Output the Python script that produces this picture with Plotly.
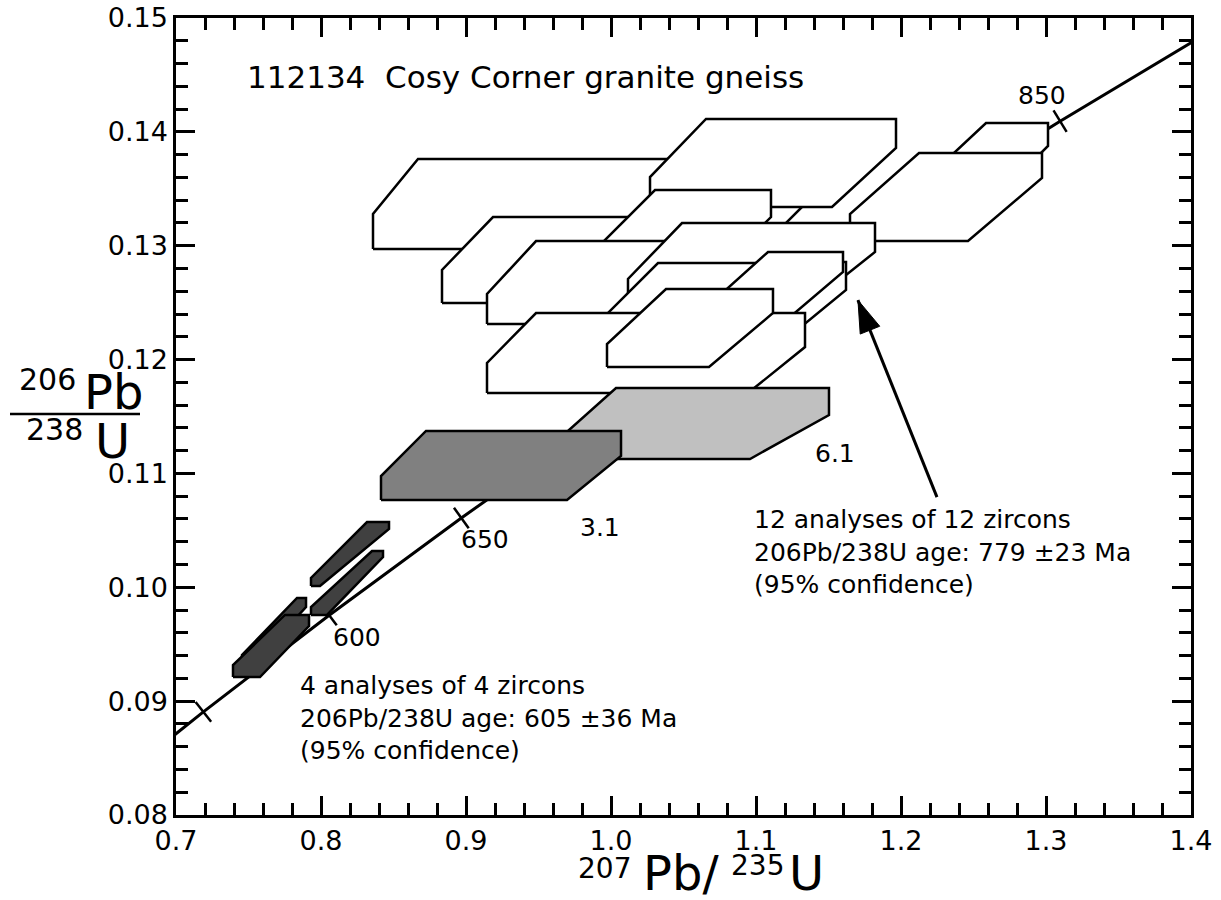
import math
import plotly.graph_objects as go

# ---------------- data ----------------
# Concordia curve points (age in Ma, 207Pb/235U, 206Pb/238U)
conc_age = [500, 550, 600, 650, 700, 750, 800, 850, 900]
conc_x = [0.63628, 0.71887, 0.80563, 0.89678, 0.99251, 1.09308, 1.19873, 1.30971, 1.42629]
conc_y = [0.08065, 0.08906, 0.09754, 0.10609, 0.11470, 0.12338, 0.13213, 0.14094, 0.14983]
tick_ages = [550, 600, 650, 700, 750, 800, 850]

# Error boxes (hexagons): x of left edge, start of top edge, right edge, end of bottom edge;
# y of bottom edge, top of left edge, top edge, bottom of right edge
box_kind = ["white", "white", "white", "white", "white", "white", "white", "white",
            "white", "white", "white", "white", "white", "light", "mid", "dark", "dark", "dark", "dark"]
box_x_left = [0.83586, 1.02690, 1.21655, 1.16483, 0.88345, 0.96483, 0.91448, 1.01172,
              1.06138, 0.98552, 1.05448, 0.91448, 0.99724, 0.96483, 0.84138, 0.74552, 0.73931, 0.79310, 0.79310]
box_x_topleft = [0.86690, 1.06552, 1.25862, 1.21241, 0.91862, 1.03034, 0.94828, 1.04897,
                 1.10966, 1.03241, 1.10828, 0.94828, 1.03793, 1.00345, 0.87241, 0.78345, 0.77517, 0.83172, 0.83517]
box_x_right = [1.15793, 1.19655, 1.30138, 1.29724, 1.06138, 1.11034, 1.08207, 1.18207,
               1.16207, 1.14414, 1.16000, 1.13379, 1.11172, 1.15034, 1.00690, 0.78966, 0.79172, 0.84690, 0.84276]
box_x_botright = [1.10276, 1.15241, 1.26414, 1.24621, 1.01793, 1.05310, 1.03931, 1.13172,
                  1.11586, 1.09586, 1.10483, 1.09448, 1.06759, 1.09586, 0.96966, 0.75103, 0.75793, 0.79931, 0.80414]
box_y_bottom = [0.12971, 0.13340, 0.13401, 0.13041, 0.12497, 0.12523, 0.12312, 0.12435,
                0.12128, 0.12128, 0.12172, 0.11706, 0.11935, 0.11127, 0.10767, 0.09291, 0.09212, 0.10011, 0.09757]
box_y_lefttop = [0.13278, 0.13603, 0.13577, 0.13278, 0.12787, 0.12655, 0.12576, 0.12708,
                 0.12383, 0.12251, 0.12330, 0.11970, 0.12137, 0.11311, 0.10977, 0.09405, 0.09317, 0.10082, 0.09827]
box_y_top = [0.13761, 0.14113, 0.14078, 0.13814, 0.13252, 0.13489, 0.13041, 0.13199,
             0.12857, 0.12848, 0.12945, 0.12409, 0.12620, 0.11750, 0.11373, 0.09906, 0.09757, 0.10573, 0.10319]
box_y_rightbot = [0.13674, 0.13858, 0.13876, 0.13595, 0.13050, 0.13252, 0.12857, 0.12945,
                  0.12611, 0.12743, 0.12769, 0.12110, 0.12409, 0.11513, 0.11153, 0.09827, 0.09660, 0.10512, 0.10266]

fill_colors = {"white": "#ffffff", "light": "#c0c0c0", "mid": "#808080", "dark": "#404040"}

# Labels
age_labels = ["850", "650", "600", "3.1", "6.1"]
age_label_x = [1.29724, 0.91310, 0.82483, 0.99241, 1.15448]
age_label_y = [0.14315, 0.10424, 0.09563, 0.10529, 0.11171]

title_text = "112134\u00a0\u00a0Cosy Corner granite gneiss"
note1 = "4 analyses of 4 zircons<br>206Pb/238U age: 605 ±36 Ma<br>(95% confidence)"
note2 = "12 analyses of 12 zircons<br>206Pb/238U age: 779 ±23 Ma<br>(95% confidence)"
arrow_x = [1.2248, 1.1703]
arrow_y = [0.10792, 0.12522]

# ---------------- layout constants ----------------
W, H = 1221, 900
ML, MR, MT, MB = 176, 30, 18, 85
XR = [0.7, 1.4]
YR = [0.08, 0.15]
FONT = "DejaVu Sans"

fig = go.Figure()

# concordia line
fig.add_trace(go.Scatter(x=conc_x, y=conc_y, mode="lines",
                         line=dict(color="black", width=3), hoverinfo="skip"))

# concordia age ticks (perpendicular in screen space)
sx = (W - ML - MR) / (XR[1] - XR[0])
sy = (H - MT - MB) / (YR[1] - YR[0])
tx, ty, tang = [], [], []
for a in tick_ages:
    i = conc_age.index(a)
    dx = (conc_x[i + 1] - conc_x[i - 1]) * sx
    dy = (conc_y[i + 1] - conc_y[i - 1]) * sy
    th = math.degrees(math.atan2(dy, dx))
    tx.append(conc_x[i])
    ty.append(conc_y[i])
    tang.append(90 - th)
fig.add_trace(go.Scatter(x=tx, y=ty, mode="markers",
                         marker=dict(symbol="line-ew", size=18, angle=tang,
                                     line=dict(width=2.5, color="black")),
                         hoverinfo="skip"))

# boxes
for k in range(len(box_kind)):
    L, TL, R, BR = box_x_left[k], box_x_topleft[k], box_x_right[k], box_x_botright[k]
    B, LT, T, RB = box_y_bottom[k], box_y_lefttop[k], box_y_top[k], box_y_rightbot[k]
    xs = [L, L, TL, R, R, BR, L]
    ys = [B, LT, T, T, RB, B, B]
    fig.add_trace(go.Scatter(x=xs, y=ys, mode="lines", fill="toself",
                             fillcolor=fill_colors[box_kind[k]],
                             line=dict(color="black", width=2.5), hoverinfo="skip"))

# arrow
fig.add_trace(go.Scatter(x=arrow_x, y=arrow_y, mode="lines",
                         line=dict(color="black", width=3), hoverinfo="skip"))
fig.add_trace(go.Scatter(x=arrow_x, y=arrow_y, mode="markers",
                         marker=dict(symbol=["circle", "arrow"], size=[0, 34],
                                     angleref="previous", color="#000000", opacity=1,
                                     line=dict(width=1, color="#000000")),
                         hoverinfo="skip"))

annotations = []
annotations.append(dict(x=0.74759, y=0.14480, xref="x", yref="y", text=title_text,
                        showarrow=False, xanchor="left", yanchor="middle",
                        font=dict(family=FONT, size=31, color="black")))
for t, x, y in zip(age_labels, age_label_x, age_label_y):
    annotations.append(dict(x=x, y=y, xref="x", yref="y", text=t, showarrow=False,
                            xanchor="center", yanchor="middle",
                            font=dict(family=FONT, size=25, color="black")))
annotations.append(dict(x=0.78414, y=0.08852, xref="x", yref="y", text=note1,
                        showarrow=False, xanchor="left", yanchor="middle", align="left",
                        font=dict(family=FONT, size=25, color="black")))
annotations.append(dict(x=1.09724, y=0.10310, xref="x", yref="y", text=note2,
                        showarrow=False, xanchor="left", yanchor="middle", align="left",
                        font=dict(family=FONT, size=25, color="black")))


def px2paper(px, py):
    return (px - ML) / (W - ML - MR), (H - MB - py) / (H - MT - MB)


def lab(text, px, py, size):
    x, y = px2paper(px, py)
    annotations.append(dict(x=x, y=y, xref="paper", yref="paper", text=text,
                            showarrow=False, xanchor="center", yanchor="middle",
                            font=dict(family=FONT, size=size, color="black")))


# y-axis title (fraction)
lab("206", 47, 379, 30)
lab("Pb", 113, 392, 48)
lab("238", 54, 429, 30)
lab("U", 112, 441, 48)
# x-axis title
lab("207", 604, 868, 28)
lab("Pb/", 681, 873, 48)
lab("235", 757, 866, 28)
lab("U", 806, 873, 48)

fx0, fy = px2paper(10, 414)
fx1, _ = px2paper(140, 414)
shapes = [dict(type="line", xref="paper", yref="paper", x0=fx0, x1=fx1, y0=fy, y1=fy,
               line=dict(color="black", width=2.5))]

axis_common = dict(showgrid=False, zeroline=False, showline=True, linewidth=2.5,
                   linecolor="black", mirror="ticks", ticks="inside", ticklen=19,
                   tickwidth=2.5, tickcolor="black", automargin=False,
                   tickfont=dict(family=FONT, size=27, color="black"))

fig.update_layout(
    width=W, height=H, autosize=False,
    margin=dict(l=ML, r=MR, t=MT, b=MB, autoexpand=False),
    paper_bgcolor="white", plot_bgcolor="white",
    showlegend=False,
    xaxis=dict(range=XR, dtick=0.1, tick0=0.7, tickformat=".1f",
               minor=dict(dtick=0.02, ticks="inside", ticklen=12, tickwidth=2.5, tickcolor="black"),
               **axis_common),
    yaxis=dict(range=YR, dtick=0.01, tick0=0.08, tickformat=".2f",
               minor=dict(dtick=0.002, ticks="inside", ticklen=12, tickwidth=2.5, tickcolor="black"),
               **axis_common),
    annotations=annotations,
    shapes=shapes,
)

fig.write_html("out.html")
